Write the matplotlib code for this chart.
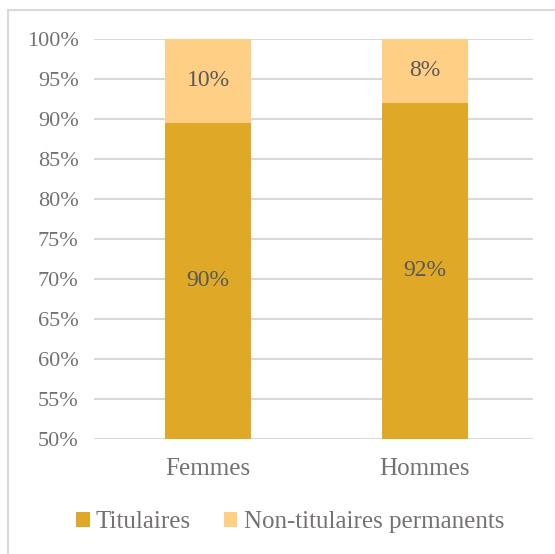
import matplotlib
matplotlib.use("Agg")
import matplotlib.pyplot as plt
from matplotlib.patches import Rectangle
import numpy as np

categories = ["Femmes", "Hommes"]
titulaires = [89.5, 92.0]
non_titulaires = [10.5, 8.0]
titulaires_labels = ["90%", "92%"]
non_titulaires_labels = ["10%", "8%"]
yticks = [50, 55, 60, 65, 70, 75, 80, 85, 90, 95, 100]
series_names = ["Titulaires", "Non-titulaires permanents"]

W, H = 555, 554
fig = plt.figure(figsize=(W/100, H/100), dpi=100)
plt.rcParams['font.family'] = ['Liberation Serif', 'DejaVu Serif']

# outer border
fig.patches.append(Rectangle((8/W, -0.1), 1.2, 1 - 10/H + 0.1, transform=fig.transFigure,
                             fill=False, edgecolor="#d9d9d9", linewidth=1.5))

ax = fig.add_axes([94/W, 1 - 439/H, (533-94)/W, 400/H])
x = np.arange(len(categories))
c1, c2 = "#DFA927", "#FFCF85"
bw = 0.396
b1 = ax.bar(x, titulaires, bw, color=c1, label=series_names[0], zorder=2)
b2 = ax.bar(x, non_titulaires, bw, bottom=titulaires, color=c2, label=series_names[1], zorder=2)
ax.set_ylim(50, 100)
ax.set_xlim(-0.5254, 1.498)
ax.set_yticks(yticks)
ax.set_yticklabels([f"{v}%" for v in yticks])
ax.set_xticks(x)
ax.set_xticklabels(categories)
ax.grid(axis="y", color="#d9d9d9", linewidth=1.5, zorder=0)
for s in ax.spines.values():
    s.set_visible(False)
ax.tick_params(length=0, labelcolor="#767171")
ax.tick_params(axis="y", pad=11, labelsize=16)
ax.tick_params(axis="x", pad=14, labelsize=18)

for i in range(len(categories)):
    ax.text(x[i], (50 + titulaires[i]) / 2, titulaires_labels[i], ha="center", va="center",
            color="#595959", fontsize=17)
    ax.text(x[i], titulaires[i] + non_titulaires[i] / 2, non_titulaires_labels[i], ha="center",
            va="center", color="#595959", fontsize=17)

leg = fig.legend(handles=[b1, b2], labels=series_names, loc="center",
                 bbox_to_anchor=(290/W, 1 - 522/H), ncol=2, frameon=False,
                 fontsize=18, handlelength=0.55, handleheight=0.55, columnspacing=1.3,
                 handletextpad=0.25)
for t in leg.get_texts():
    t.set_color("#767171")

fig.savefig("out.png", dpi=100)
